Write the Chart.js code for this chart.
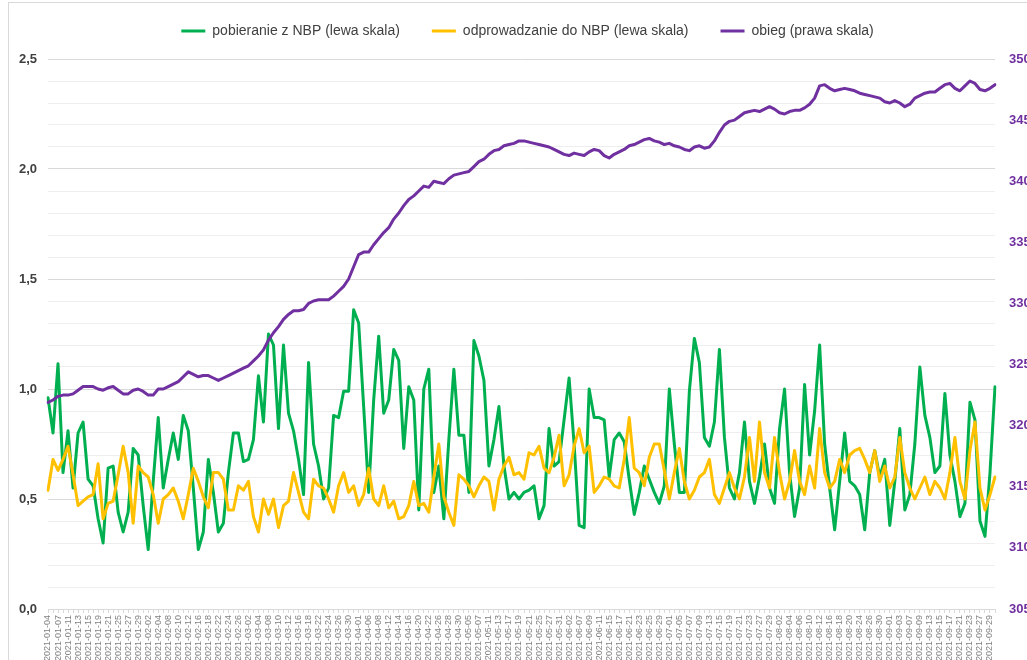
<!DOCTYPE html>
<html>
<head>
<meta charset="utf-8">
<script src="https://cdn.jsdelivr.net/npm/chart.js@4/dist/chart.umd.min.js"></script>
<style>
  html, body { margin: 0; padding: 0; background: #fff; overflow: hidden; }
  #frame { position: absolute; left: 8px; top: 2px; width: 1100px; height: 700px; border: 1px solid #d9d9d9; }
  #wrap { position: absolute; left: 0; top: 0; width: 1055px; height: 680px; }
</style>
</head>
<body>
<div id="frame"></div>
<div id="wrap"><canvas id="chart"></canvas></div>
<script>
// business days 2021-01-04 .. 2021-09-30 (Polish holidays skipped)
const holidays = ["2021-01-01", "2021-01-06", "2021-04-05", "2021-05-03", "2021-06-03"];
const firstDay = "2021-01-04";
const lastDay = "2021-09-30";

function businessDays(from, to) {
  const out = [];
  const d = new Date(from + "T12:00:00Z");
  const end = new Date(to + "T12:00:00Z");
  while (d <= end) {
    const s = d.toISOString().slice(0, 10);
    const wd = d.getUTCDay();
    if (wd !== 0 && wd !== 6 && !holidays.includes(s)) out.push(s);
    d.setUTCDate(d.getUTCDate() + 1);
  }
  return out;
}
const dates = businessDays(firstDay, lastDay);

// pobieranie z NBP (lewa skala)
const pobieranie = [
  0.96, 0.80, 1.115, 0.62, 0.81, 0.55, 0.80, 0.85, 0.59, 0.56,
  0.41, 0.30, 0.64, 0.65, 0.44, 0.35, 0.44, 0.73, 0.70, 0.47,
  0.27, 0.58, 0.87, 0.55, 0.68, 0.80, 0.68, 0.88, 0.81, 0.55,
  0.27, 0.35, 0.68, 0.53, 0.35, 0.39, 0.62, 0.80, 0.80, 0.67,
  0.68, 0.77, 1.06, 0.85, 1.25, 1.20, 0.82, 1.20, 0.89, 0.81,
  0.68, 0.52, 1.12, 0.75, 0.65, 0.50, 0.55, 0.88, 0.87, 0.99,
  0.99, 1.36, 1.30, 0.92, 0.53, 0.95, 1.24, 0.89, 0.95, 1.18,
  1.13, 0.73, 1.01, 0.95, 0.45, 1.00, 1.09, 0.53, 0.65, 0.41,
  0.77, 1.09, 0.79, 0.79, 0.53, 1.22, 1.15, 1.04, 0.65, 0.77,
  0.92, 0.65, 0.50, 0.53, 0.50, 0.53, 0.54, 0.56, 0.41, 0.47,
  0.82, 0.65, 0.67, 0.86, 1.05, 0.75, 0.38, 0.37, 1.00, 0.87,
  0.87, 0.86, 0.60, 0.77, 0.80, 0.76, 0.59, 0.43, 0.53, 0.65,
  0.59, 0.53, 0.48, 0.56, 1.00, 0.75, 0.53, 0.53, 0.99, 1.23,
  1.12, 0.78, 0.74, 0.85, 1.18, 0.78, 0.55, 0.50, 0.62, 0.85,
  0.58, 0.48, 0.60, 0.75, 0.55, 0.48, 0.82, 1.00, 0.62, 0.42,
  0.55, 1.02, 0.70, 0.90, 1.20, 0.75, 0.55, 0.36, 0.58, 0.80,
  0.58, 0.56, 0.52, 0.36, 0.62, 0.72, 0.60, 0.68, 0.38, 0.58,
  0.82, 0.45, 0.52, 0.75, 1.10, 0.88, 0.78, 0.62, 0.65, 0.98,
  0.70, 0.58, 0.42, 0.48, 0.94, 0.86, 0.40, 0.33, 0.62, 1.01
];

// odprowadzanie do NBP (lewa skala)
const odprowadzanie = [
  0.54, 0.68, 0.63, 0.68, 0.74, 0.61, 0.47, 0.49, 0.51, 0.52,
  0.66, 0.41, 0.48, 0.49, 0.61, 0.74, 0.62, 0.39, 0.65, 0.62,
  0.60, 0.52, 0.39, 0.50, 0.52, 0.55, 0.49, 0.41, 0.52, 0.64,
  0.58, 0.51, 0.46, 0.62, 0.62, 0.59, 0.45, 0.45, 0.56, 0.54,
  0.58, 0.42, 0.35, 0.50, 0.43, 0.50, 0.37, 0.47, 0.49, 0.62,
  0.53, 0.44, 0.41, 0.59, 0.56, 0.55, 0.50, 0.44, 0.56, 0.62,
  0.53, 0.56, 0.47, 0.52, 0.64, 0.50, 0.47, 0.56, 0.46, 0.49,
  0.41, 0.42, 0.47, 0.58, 0.47, 0.48, 0.44, 0.60, 0.75, 0.51,
  0.44, 0.38, 0.61, 0.59, 0.56, 0.51, 0.56, 0.60, 0.58, 0.45,
  0.59, 0.65, 0.69, 0.61, 0.62, 0.59, 0.71, 0.70, 0.74, 0.64,
  0.62, 0.69, 0.79, 0.56, 0.61, 0.74, 0.82, 0.71, 0.74, 0.53,
  0.56, 0.60, 0.59, 0.56, 0.55, 0.68, 0.87, 0.64, 0.62, 0.56,
  0.69, 0.75, 0.75, 0.63, 0.50, 0.62, 0.73, 0.58, 0.50, 0.54,
  0.60, 0.62, 0.68, 0.52, 0.48, 0.55, 0.62, 0.55, 0.50, 0.60,
  0.78, 0.58, 0.85, 0.62, 0.55, 0.78, 0.62, 0.50, 0.58, 0.72,
  0.58, 0.52, 0.65, 0.55, 0.82, 0.62, 0.55, 0.58, 0.68, 0.62,
  0.70, 0.72, 0.73, 0.68, 0.62, 0.72, 0.58, 0.65, 0.55, 0.60,
  0.78, 0.62, 0.55, 0.50, 0.55, 0.60, 0.52, 0.58, 0.55, 0.50,
  0.62, 0.78, 0.58, 0.50, 0.72, 0.85, 0.55, 0.45, 0.52, 0.60
];

// obieg (prawa skala)
const obieg = [
  321.9, 322.1, 322.4, 322.5, 322.5, 322.6, 322.9, 323.2, 323.2, 323.2,
  323.0, 322.9, 323.1, 323.2, 322.9, 322.6, 322.6, 322.9, 323.0, 322.8,
  322.5, 322.5, 323.0, 323.0, 323.2, 323.4, 323.6, 324.0, 324.4, 324.2,
  324.0, 324.1, 324.1, 323.9, 323.7, 323.9, 324.1, 324.3, 324.5, 324.7,
  324.9, 325.3, 325.7, 326.2, 327.0, 327.6, 328.1, 328.7, 329.1, 329.4,
  329.4, 329.5, 330.0, 330.2, 330.3, 330.3, 330.3, 330.6, 331.0, 331.4,
  332.0, 333.0, 334.0, 334.2, 334.2, 334.8, 335.3, 335.8, 336.2, 336.9,
  337.4, 338.0, 338.5, 338.8, 339.2, 339.6, 339.5, 340.0, 339.9, 339.8,
  340.2, 340.5, 340.6, 340.7, 340.8, 341.2, 341.6, 341.8, 342.2, 342.5,
  342.6, 342.9, 343.0, 343.1, 343.3, 343.3, 343.2, 343.1, 343.0, 342.9,
  342.8, 342.6, 342.4, 342.2, 342.1, 342.3, 342.2, 342.1, 342.4, 342.6,
  342.5, 342.1, 341.9, 342.2, 342.4, 342.6, 342.9, 343.0, 343.2, 343.4,
  343.5, 343.3, 343.2, 343.0, 343.1, 342.9, 342.8, 342.6, 342.5, 342.8,
  342.9, 342.7, 342.8, 343.3, 344.0, 344.6, 344.9, 345.0, 345.3, 345.6,
  345.7, 345.8, 345.7, 345.9, 346.1, 345.9, 345.6, 345.5, 345.7, 345.8,
  345.8, 346.0, 346.3, 346.8, 347.8, 347.9, 347.6, 347.4, 347.5, 347.6,
  347.5, 347.4, 347.2, 347.1, 347.0, 346.9, 346.8, 346.5, 346.4, 346.6,
  346.4, 346.1, 346.3, 346.8, 347.0, 347.2, 347.3, 347.3, 347.6, 347.9,
  348.0, 347.6, 347.4, 347.8, 348.2, 348.0, 347.5, 347.4, 347.6, 347.9
];

const seriesNames = ["pobieranie z NBP (lewa skala)", "odprowadzanie do NBP (lewa skala)", "obieg (prawa skala)"];
const seriesColors = ["#00b050", "#ffc000", "#7030a0"];

const AREA = { left: 48, right: 995, top: 58, bottom: 609 };
const W = 1055, H = 680;
const LEGEND_LIFT = 11;

const fmt = v => v.toFixed(1).replace(".", ",");

// move the legend row up a little, the plot area stays where it is
const legendLift = {
  id: "legendLift",
  afterLayout(ch) {
    if (ch.legend) {
      ch.legend.top -= LEGEND_LIFT;
      ch.legend.bottom -= LEGEND_LIFT;
    }
  }
};

const ctx = document.getElementById("chart").getContext("2d");
const chart = new Chart(ctx, {
  type: "line",
  data: {
    labels: dates,
    datasets: [
      { label: seriesNames[0], data: pobieranie, borderColor: seriesColors[0], backgroundColor: seriesColors[0], yAxisID: "y", order: 3 },
      { label: seriesNames[1], data: odprowadzanie, borderColor: seriesColors[1], backgroundColor: seriesColors[1], yAxisID: "y", order: 2 },
      { label: seriesNames[2], data: obieg, borderColor: seriesColors[2], backgroundColor: seriesColors[2], yAxisID: "y1", order: 1 }
    ]
  },
  plugins: [legendLift],
  options: {
    responsive: true,
    maintainAspectRatio: false,
    animation: false,
    layout: { padding: { left: 0, right: 0, top: 3, bottom: 0 } },
    elements: {
      line: { borderWidth: 3, tension: 0, borderJoinStyle: "round", borderCapStyle: "round" },
      point: { radius: 0 }
    },
    plugins: {
      tooltip: { enabled: false },
      legend: {
        position: "top",
        labels: {
          font: { family: "'Liberation Sans', Arial, sans-serif", size: 14 },
          color: "#404040",
          boxWidth: 24,
          boxHeight: 3,
          padding: 32,
          sort: (a, b) => a.datasetIndex - b.datasetIndex,
          generateLabels: (ch) => Chart.defaults.plugins.legend.labels.generateLabels(ch).map(it => {
            it.lineWidth = 0;
            return it;
          })
        }
      }
    },
    scales: {
      x: {
        type: "category",
        offset: false,
        grid: { drawOnChartArea: false, drawTicks: true, tickLength: 4, color: "#d9d9d9" },
        border: { display: true, color: "#d9d9d9" },
        ticks: {
          autoSkip: false,
          minRotation: 90,
          maxRotation: 90,
          padding: 2,
          color: "#808080",
          font: { family: "'Liberation Sans', Arial, sans-serif", size: 9 },
          callback: function (val, index) {
            return index % 2 === 0 ? this.getLabelForValue(val) : "";
          }
        },
        afterFit: s => { s.height = H - AREA.bottom; }
      },
      y: {
        position: "left",
        min: 0,
        max: 2.5,
        border: { display: false },
        grid: {
          drawTicks: false,
          color: c => (Math.round(c.tick.value * 10) % 5 === 0 ? "#d9d9d9" : "#eeeeee")
        },
        ticks: {
          stepSize: 0.1,
          autoSkip: false,
          padding: 11,
          color: "#404040",
          font: { family: "'Liberation Sans', Arial, sans-serif", size: 13, weight: "bold" },
          callback: v => (Math.round(v * 10) % 5 === 0 ? fmt(v) : "")
        },
        afterFit: s => { s.width = AREA.left; }
      },
      y1: {
        position: "right",
        min: 305,
        max: 350,
        border: { display: false },
        grid: { drawOnChartArea: false, drawTicks: false },
        ticks: {
          stepSize: 5,
          padding: 14,
          color: "#7030a0",
          font: { family: "'Liberation Sans', Arial, sans-serif", size: 13, weight: "bold" },
          callback: v => String(v)
        },
        afterFit: s => { s.width = W - AREA.right; }
      }
    }
  }
});
</script>
</body>
</html>
